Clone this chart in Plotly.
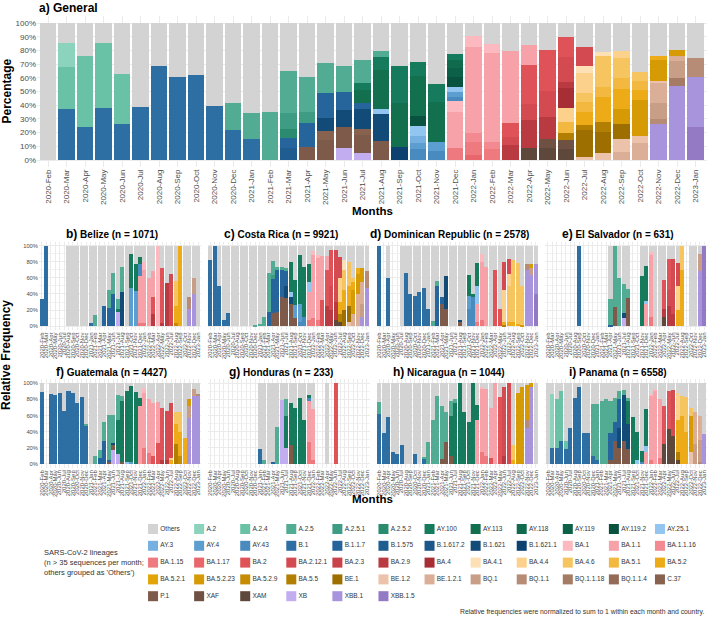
import plotly.graph_objects as go

W, H = 708, 618
FONT = "Liberation Sans, Arial, sans-serif"

MONTHS = ["2020-Feb", "2020-Mar", "2020-Apr", "2020-May", "2020-Jun", "2020-Jul",
          "2020-Aug", "2020-Sep", "2020-Oct", "2020-Nov", "2020-Dec",
          "2021-Jan", "2021-Feb", "2021-Mar", "2021-Apr", "2021-May", "2021-Jun",
          "2021-Jul", "2021-Aug", "2021-Sep", "2021-Oct", "2021-Nov", "2021-Dec",
          "2022-Jan", "2022-Feb", "2022-Mar", "2022-Apr", "2022-May", "2022-Jun",
          "2022-Jul", "2022-Aug", "2022-Sep", "2022-Oct", "2022-Nov", "2022-Dec",
          "2023-Jan"]

LINEAGES = ["Others", "A.2", "A.2.4", "A.2.5", "A.2.5.1", "A.2.5.2", "AY.100", "AY.113",
            "AY.118", "AY.119", "AY.119.2", "AY.25.1",
            "AY.3", "AY.4", "AY.43", "B.1", "B.1.1.7", "B.1.575", "B.1.617.2", "B.1.621",
            "B.1.621.1", "BA.1", "BA.1.1", "BA.1.1.16",
            "BA.1.15", "BA.1.17", "BA.2", "BA.2.12.1", "BA.2.3", "BA.2.9", "BA.4", "BA.4.1",
            "BA.4.4", "BA.4.6", "BA.5.1", "BA.5.2",
            "BA.5.2.1", "BA.5.2.23", "BA.5.2.9", "BA.5.5", "BE.1", "BE.1.2", "BE.1.2.1", "BQ.1",
            "BQ.1.1", "BQ.1.1.18", "BQ.1.1.4", "C.37",
            "P.1", "XAF", "XAM", "XB", "XBB.1", "XBB.1.5"]

COLORS = ["#d3d3d3", "#8cd3be", "#69c2a6", "#52ab93", "#3f9c84", "#2a8b6e", "#167a5d", "#12704f",
          "#0f6a4e", "#0d6048", "#0a5240", "#92c5f0",
          "#75b0e0", "#5d9ed0", "#4a8bbf", "#2e6fa3", "#25659b", "#1f5d90", "#1b5788", "#124a78",
          "#0d4270", "#fdb9c0", "#f7a2a8", "#f38a92",
          "#ee7a80", "#e8666c", "#df5358", "#d44a51", "#c8424a", "#ba3a41", "#a82e36", "#fde0b5",
          "#fbd18b", "#f7c560", "#f2b840", "#edab18",
          "#e3a408", "#d69a04", "#c68c04", "#b27f02", "#9c6f00", "#ecc2ab", "#dbae98", "#c99e86",
          "#b78c76", "#a67b66", "#936b57", "#86624f",
          "#7d5a49", "#6e5143", "#5e473b", "#c3adf1", "#a893dd", "#9479c4"]

# ---- panel data: month index -> {lineage: percent}; "Others" fills the rest in listed months
GENERAL = {
    1: {"B.1": 37.1, "A.2.4": 30.9, "A.2": 17.4},
    2: {"B.1": 24.3, "A.2.4": 51.7},
    3: {"B.1": 38.1, "A.2.4": 47.3},
    4: {"B.1": 26.2, "A.2.4": 36.9},
    5: {"B.1": 38.8},
    6: {"B.1": 68.4},
    7: {"B.1": 60.7},
    8: {"B.1": 62.0},
    9: {"B.1": 39.8},
    10: {"B.1": 21.9, "A.2.5": 20.1},
    11: {"B.1": 15.3, "A.2.5": 19.2},
    12: {"A.2.5": 34.8},
    13: {"B.1.575": 8.5, "B.1.1.7": 7.3, "A.2.5.2": 7.2, "A.2.5.1": 11.5, "A.2.5": 30.5},
    14: {"P.1": 9.7, "B.1.1.7": 17.6, "A.2.5.1": 8.0, "A.2.5": 25.5},
    15: {"P.1": 15.0, "C.37": 6.0, "B.1.621": 10.0, "B.1.1.7": 17.7, "A.2.5": 22.3},
    16: {"XB": 9.0, "P.1": 14.8, "B.1.621": 12.7, "B.1.1.7": 13.1, "A.2.5": 19.0},
    17: {"XB": 5.4, "P.1": 13.2, "C.37": 4.4, "B.1.621": 14.0, "B.1.1.7": 5.0,
         "AY.113": 9.0, "AY.100": 5.0, "A.2.5": 16.7},
    18: {"P.1": 13.9, "B.1.621": 19.7, "AY.25.1": 3.6, "AY.113": 28.5, "AY.100": 9.3, "A.2.5": 4.8},
    19: {"B.1.621.1": 9.7, "AY.113": 32.1, "AY.100": 26.8},
    20: {"AY.43": 7.8, "AY.4": 4.4, "AY.3": 5.6, "AY.25.1": 7.0, "AY.119.2": 7.6,
         "AY.113": 28.9, "AY.100": 10.5},
    21: {"AY.43": 6.8, "AY.4": 6.6, "AY.113": 28.7, "AY.100": 13.4},
    22: {"BA.1.15": 8.5, "BA.1.1": 26.8, "BA.1": 7.7, "AY.43": 3.2, "AY.4": 3.7, "AY.25.1": 3.6,
         "AY.119.2": 7.3, "AY.119": 6.1, "AY.118": 6.0, "AY.100": 4.2},
    23: {"BA.1.17": 3.6, "BA.1.15": 9.3, "BA.1.1.16": 6.6, "BA.1.1": 62.7, "BA.1": 8.3},
    24: {"BA.1.15": 7.8, "BA.1.1.16": 5.6, "BA.1.1": 64.9, "BA.1": 6.1},
    25: {"BA.2.9": 10.9, "BA.2.12.1": 6.1, "BA.2": 9.8, "BA.1.1": 53.0},
    26: {"XAM": 8.5, "BA.2.9": 20.7, "BA.2.12.1": 11.4, "BA.2": 28.7, "BA.1.1": 14.6},
    27: {"XAM": 9.0, "XAF": 6.3, "BA.2.9": 16.3, "BA.2.12.1": 18.8, "BA.2": 29.9},
    28: {"XAM": 8.0, "XAF": 6.6, "BA.5.5": 4.9, "BA.5.1": 8.5, "BA.4.4": 9.7, "BA.4": 14.6,
         "BA.2.9": 4.9, "BA.2.12.1": 18.2, "BA.2": 14.1},
    29: {"BE.1.2": 2.4, "BE.1": 19.5, "BA.5.5": 3.6, "BA.5.2": 9.8, "BA.5.1": 7.3, "BA.4.6": 6.1,
         "BA.4.4": 14.6, "BA.4.1": 5.6, "BA.2.12.1": 13.3},
    30: {"BE.1.2": 5.4, "BE.1": 15.3, "BA.5.5": 7.3, "BA.5.2": 18.2, "BA.5.1": 7.3, "BA.4.6": 22.7,
         "BA.4.1": 2.4},
    31: {"BE.1.2.1": 6.1, "BE.1.2": 9.2, "BE.1": 11.0, "BA.5.2.23": 10.7, "BA.5.2": 14.8,
         "BA.5.1": 7.8, "BA.4.6": 14.6, "BA.4.4": 5.6},
    32: {"BE.1.2.1": 12.2, "BE.1.2": 5.6, "BA.5.2.23": 26.0, "BA.5.2": 7.3, "BA.5.1": 6.6, "BA.4.6": 6.3},
    33: {"XBB.1": 26.3, "BQ.1.1": 3.6, "BQ.1": 11.5, "BE.1.2.1": 14.6, "BE.1.2": 1.9,
         "BA.5.2.23": 15.1, "BA.5.2": 3.2},
    34: {"XBB.1": 54.3, "BQ.1.1.18": 5.3, "BQ.1": 12.7, "BE.1.2.1": 3.9, "BA.5.2.23": 4.1},
    35: {"XBB.1.5": 24.3, "XBB.1": 36.5, "BQ.1.1": 13.9},
}
GENERAL_OTHERS = list(range(36))

BELIZE = {
    0: {"B.1": 33.5}, 1: {"B.1": 100}, 11: {"B.1": 4.5}, 12: {"A.2.5": 13.5},
    14: {"B.1.1.7": 25}, 15: {"B.1.1.7": 22.5, "A.2.5": 22}, 16: {"B.1.1.7": 40, "A.2.5": 26},
    17: {"XB": 17.5, "AY.100": 3.5, "A.2.5": 13}, 18: {"B.1.621": 43, "A.2.5": 31},
    20: {"AY.4": 47, "AY.100": 43}, 21: {"AY.4": 44, "AY.100": 33},
    22: {"BA.1.15": 4, "BA.1.1": 58, "AY.43": 15, "AY.100": 9},
    23: {"BA.1.15": 4, "BA.1.1": 66, "BA.1": 10}, 24: {"BA.1.1": 60},
    25: {"BA.2.9": 15, "BA.2": 21, "BA.1.1": 32}, 26: {"BA.1": 100},
    27: {"BA.2.9": 4, "BA.2": 68}, 28: {"BA.2.9": 54}, 29: {"BA.2.12.1": 65},
    30: {"BA.5.2.9": 4, "BA.5.2": 21, "BA.4.6": 31}, 31: {"BA.5.2": 100},
    33: {"XBB.1": 21, "BQ.1.1": 15}, 34: {"XBB.1": 40, "BQ.1": 20},
}
BELIZE_OTHERS = list(range(6, 36))

COSTA_RICA = {
    0: {"B.1": 82}, 1: {"B.1": 100}, 2: {"B.1": 50}, 3: {"B.1": 7.5}, 4: {"B.1": 17},
    10: {"A.2.5": 2}, 11: {"A.2.5": 3}, 12: {"A.2.5": 11},
    13: {"B.1.1.7": 18, "A.2.5": 48},
    14: {"P.1": 16, "B.1.1.7": 42, "A.2.5.1": 5, "A.2.5": 18},
    15: {"P.1": 18, "B.1.1.7": 52, "A.2.5": 4},
    16: {"P.1": 36, "B.1.1.7": 34, "A.2.5": 3},
    17: {"P.1": 35, "B.1.621": 15, "B.1.1.7": 20, "A.2.5": 2},
    18: {"P.1": 28, "B.1.621": 8, "AY.25.1": 6, "AY.100": 38},
    19: {"P.1": 10, "AY.4": 16, "AY.100": 31},
    20: {"AY.43": 5, "AY.4": 23, "AY.100": 60},
    21: {"AY.43": 12, "AY.100": 61},
    22: {"BA.1.15": 8, "BA.1.1": 34, "AY.25.1": 13, "AY.100": 22},
    23: {"BA.1.15": 10, "BA.1.1": 78, "BA.1": 5},
    24: {"BA.1.15": 8, "BA.1.1": 76, "BA.1": 4},
    25: {"BA.2": 33, "BA.1.1": 54},
    26: {"BA.2.9": 25, "BA.2": 45, "BA.1.1": 17},
    27: {"BA.2.9": 20, "BA.2.12.1": 30, "BA.2": 44},
    28: {"XAM": 8, "BA.2.9": 22, "BA.2.12.1": 64},
    29: {"XAM": 5, "BA.5.5": 10, "BA.5.2": 15, "BA.4.4": 30, "BA.2.12.1": 26},
    30: {"BE.1": 20, "BA.5.2": 25, "BA.4.6": 25, "BA.4.1": 12},
    31: {"BE.1.2": 5, "BE.1": 20, "BA.5.2": 25, "BA.4.6": 30},
    32: {"BE.1.2.1": 15, "BA.5.2.23": 30, "BA.5.2": 10, "BA.4.6": 5},
    33: {"BE.1.2.1": 40, "BA.5.2.23": 25, "BA.5.2": 7},
    34: {"XBB.1": 12, "BQ.1": 15, "BE.1.2.1": 28, "BA.5.2.23": 17},
    35: {"XBB.1": 48, "BQ.1.1": 20},
}
COSTA_RICA_OTHERS = list(range(36))

DOMINICAN_REP = {
    0: {"B.1": 100}, 2: {"B.1": 60}, 6: {"B.1": 66}, 7: {"B.1": 40}, 8: {"B.1": 38},
    9: {"B.1": 42}, 10: {"B.1": 47}, 11: {"B.1": 22}, 12: {"A.2.5": 7},
    13: {"B.1.1.7": 50, "A.2.5": 6}, 14: {"P.1": 27, "B.1.1.7": 9},
    15: {"P.1": 22, "B.1.621": 40}, 18: {"P.1": 5, "B.1.621": 3},
    20: {"AY.43": 22, "AY.4": 16, "AY.100": 25}, 21: {"AY.43": 38, "AY.100": 2},
    22: {"BA.1.15": 5, "BA.1.1": 23, "AY.25.1": 22, "AY.100": 28},
    23: {"BA.1.15": 8, "BA.1.1": 72, "BA.1": 10}, 24: {"BA.1.1": 74},
    26: {"BA.2": 70}, 27: {"BA.2": 22},
    28: {"BA.5.5": 2, "BA.5.2": 3, "BA.4.4": 40, "BA.2.12.1": 35},
    29: {"BA.5.2": 5, "BA.4.6": 45, "BA.4.4": 15, "BA.2.12.1": 18},
    30: {"BA.5.2": 5, "BA.4.6": 77}, 31: {"BA.5.2": 3, "BA.4.6": 75},
    32: {"BA.5.2.23": 2, "BA.4.6": 48},
    33: {"XBB.1": 70, "BQ.1.1": 7}, 34: {"XBB.1": 64, "BQ.1": 8, "BA.5.2.23": 5},
    35: {"XBB.1.5": 40, "XBB.1": 37},
}
DOMINICAN_REP_OTHERS = [2] + list(range(5, 36))

EL_SALVADOR = {
    7: {"B.1": 100}, 14: {"B.1.1.7": 2, "A.2.5": 32}, 15: {"P.1": 24, "A.2.5": 76},
    16: {"A.2.5": 60}, 17: {"XB": 10, "B.1.621": 6, "A.2.5": 36}, 18: {"P.1": 35, "A.2.5": 11},
    21: {"AY.100": 62}, 22: {"BA.1.1": 28, "AY.25.1": 3, "AY.100": 44},
    23: {"BA.1.15": 12, "BA.1.1": 78, "BA.1": 2},
    26: {"XAM": 12, "BA.2.9": 10, "BA.2": 35}, 27: {"BA.2.9": 25, "BA.2.12.1": 20, "BA.2": 38},
    28: {"BA.2.9": 15, "BA.2.12.1": 68}, 29: {"BA.5.2": 20, "BA.4.4": 30, "BA.2.12.1": 28},
    30: {"BA.5.2": 70, "BA.4.6": 30}, 34: {"XBB.1": 68, "BQ.1": 22}, 35: {"XBB.1.5": 100},
}
EL_SALVADOR_OTHERS = list(range(14, 19)) + list(range(21, 31)) + list(range(32, 35))

GUATEMALA = {
    0: {"B.1": 89}, 2: {"B.1": 87}, 3: {"B.1": 86}, 4: {"B.1": 88}, 5: {"B.1": 66},
    6: {"B.1": 90}, 7: {"B.1": 88}, 8: {"B.1": 75}, 9: {"B.1": 83},
    10: {"B.1": 47, "A.2.5": 2}, 12: {"A.2.5": 10}, 13: {"B.1.1.7": 8, "A.2.5": 9},
    14: {"B.1.1.7": 29, "A.2.5": 23}, 15: {"P.1": 2, "B.1.1.7": 3, "A.2.5": 56},
    16: {"XB": 17, "P.1": 6, "B.1.621": 3, "A.2.5": 35},
    17: {"XB": 12, "AY.100": 43, "A.2.5": 30}, 18: {"P.1": 3, "AY.100": 75, "A.2.5": 6},
    19: {"AY.25.1": 3, "AY.100": 87}, 20: {"AY.4": 2, "AY.100": 95}, 21: {"AY.100": 89},
    22: {"BA.1.1": 72, "AY.100": 10}, 23: {"BA.1.15": 20, "BA.1.1": 68, "BA.1": 6},
    24: {"BA.1.15": 13, "BA.1.1": 67}, 25: {"BA.2": 10, "BA.1.1": 65},
    26: {"BA.2": 26, "BA.1.1": 51}, 27: {"BA.2.9": 5, "BA.2": 64},
    28: {"BA.2.9": 5, "BA.2.12.1": 61}, 29: {"BA.5.2": 5, "BA.4.4": 3, "BA.2.12.1": 67},
    30: {"BA.5.5": 25, "BA.5.2": 25, "BA.4.6": 15}, 31: {"BA.5.2.9": 10, "BA.5.2": 30, "BA.4.6": 25},
    32: {"BA.5.2": 32}, 33: {"XBB.1": 57, "BQ.1": 15, "BA.5.2.23": 8},
    34: {"XBB.1": 84, "BQ.1": 9}, 35: {"XBB.1": 84, "BQ.1.1": 3},
}
GUATEMALA_OTHERS = [0] + list(range(2, 36))

HONDURAS = {
    11: {"B.1": 18}, 12: {"A.2.5": 5}, 14: {"B.1.1.7": 2}, 15: {"A.2.5": 46}, 16: {"XB": 79},
    17: {"XB": 20, "AY.100": 40, "A.2.5": 20}, 18: {"P.1": 24, "AY.100": 51},
    19: {"AY.100": 69}, 20: {"AY.100": 82}, 21: {"AY.100": 54},
    22: {"BA.1.15": 27, "BA.1.1": 51, "AY.43": 4, "AY.100": 4},
    23: {"BA.1.15": 5, "BA.1.1": 63}, 28: {"BA.2": 100},
}
HONDURAS_OTHERS = list(range(11, 24)) + [26, 28]

NICARAGUA = {
    0: {"B.1": 62, "A.2.5": 15}, 1: {"B.1": 38}, 2: {"B.1": 58}, 3: {"B.1": 15}, 4: {"B.1": 12},
    5: {"B.1": 24}, 8: {"B.1": 12}, 10: {"B.1": 6, "A.2.5": 3}, 11: {"A.2.5": 27},
    12: {"A.2.5": 54}, 13: {"A.2.5": 84}, 14: {"P.1": 6, "A.2.5": 66}, 15: {"P.1": 27, "A.2.5": 37},
    16: {"P.1": 10, "AY.100": 50, "A.2.5": 18}, 17: {"AY.100": 75, "A.2.5": 5},
    18: {"AY.100": 100}, 19: {"AY.100": 64}, 20: {"AY.100": 52}, 21: {"AY.100": 100},
    22: {"BA.1.1": 55, "AY.100": 18}, 23: {"BA.1.15": 15, "BA.1.1": 78, "BA.1": 2},
    24: {"BA.1.15": 10, "BA.1.1": 83}, 25: {"BA.2": 8, "BA.1.1": 62}, 26: {"BA.1.1": 100},
    27: {"BA.2": 83}, 28: {"BA.2.9": 10, "BA.2.12.1": 85}, 29: {"BA.2.12.1": 100},
    30: {"BA.5.2": 5, "BA.4.6": 18}, 31: {"BA.5.2.23": 88}, 32: {"BA.5.2.23": 95},
    33: {"XBB.1": 45, "BQ.1.1": 10, "BA.5.2.23": 43}, 34: {"XBB.1": 96, "BA.5.2.23": 4},
}
NICARAGUA_OTHERS = list(range(36))

PANAMA = {
    1: {"B.1": 20, "A.2": 67}, 2: {"B.1": 20, "A.2.4": 60}, 3: {"B.1": 29, "A.2.4": 61},
    4: {"B.1": 18, "A.2.4": 10}, 5: {"B.1": 44}, 6: {"B.1": 82}, 7: {"B.1": 96}, 8: {"B.1": 38},
    9: {"B.1": 38}, 10: {"B.1": 10, "A.2.5": 64}, 11: {"B.1": 5, "A.2.5": 69},
    12: {"A.2.5": 78}, 13: {"A.2.5": 81}, 14: {"P.1": 5, "B.1.1.7": 33, "A.2.5": 40},
    15: {"P.1": 28, "B.1.1.7": 24, "A.2.5": 30},
    16: {"P.1": 20, "B.1.621": 25, "B.1.1.7": 35, "A.2.5": 10},
    17: {"P.1": 28, "B.1.621": 57, "A.2.5": 7},
    18: {"P.1": 18, "B.1.621": 32, "AY.100": 28, "A.2.5": 4},
    19: {"AY.100": 58}, 20: {"AY.25.1": 5, "AY.100": 35}, 21: {"AY.43": 2, "AY.100": 14},
    22: {"BA.1.1": 15, "AY.25.1": 7, "AY.100": 46}, 23: {"BA.1.15": 5, "BA.1.1": 80, "BA.1": 2},
    24: {"BA.1.1": 90, "BA.1": 3}, 25: {"BA.1.15": 8, "BA.1.1": 72},
    26: {"XAM": 25, "BA.2": 47}, 27: {"XAM": 43, "BA.2": 48}, 28: {"XAM": 35, "BA.2.12.1": 57},
    29: {"XAM": 5, "BA.5.5": 10, "BA.5.2": 40, "BA.4.4": 33}, 30: {"BA.5.2": 60, "BA.4.6": 24},
    31: {"BA.5.2": 40, "BA.4.6": 43}, 32: {"BE.1.2": 15, "BA.5.2.23": 45, "BA.4.6": 10},
    33: {"BE.1.2.1": 40, "BQ.1": 25}, 34: {"BE.1.2.1": 30, "BQ.1": 28, "BQ.1.1": 2},
    35: {"XBB.1": 37},
}
PANAMA_OTHERS = list(range(36))

TITLES = ["a) General", "b) Belize", "c) Costa Rica", "d) Dominican Republic", "e) El Salvador",
          "f) Guatemala", "g) Honduras", "h) Nicaragua", "i) Panama"]
SEQ_COUNTS = [None, 1071, 9921, 2578, 631, 4427, 233, 1044, 6558]
LEGEND_TITLE = "SARS-CoV-2 lineages<br>(n > 35 sequences per month;<br>others grouped as 'Others')"
CAPTION = "Relative frequencies were normalized to sum to 1 within each month and country."

PANEL_DATA = [(GENERAL, GENERAL_OTHERS), (BELIZE, BELIZE_OTHERS), (COSTA_RICA, COSTA_RICA_OTHERS),
              (DOMINICAN_REP, DOMINICAN_REP_OTHERS), (EL_SALVADOR, EL_SALVADOR_OTHERS),
              (GUATEMALA, GUATEMALA_OTHERS), (HONDURAS, HONDURAS_OTHERS),
              (NICARAGUA, NICARAGUA_OTHERS), (PANAMA, PANAMA_OTHERS)]


def fx(px):
    return px / W


def fy(py):
    return 1 - py / H


# ---- geometry (pixels)
TOP_X = (37, 706.6)
TOP_Y = (16.2, 166.9)
SMALL_X = [(39, 200.75), (207.75, 369.5), (376.5, 538.25), (545.25, 707)]
ROW_Y = [(241.5, 330.3), (379.3, 468.0)]

color_of = dict(zip(LINEAGES, COLORS))
fig = go.Figure()
layout = {}
annotations = []

for k, (data, others_months) in enumerate(PANEL_DATA, start=1):
    xa = "x" if k == 1 else f"x{k}"
    ya = "y" if k == 1 else f"y{k}"
    for lin in reversed(LINEAGES):
        if lin == "Others":
            vals = []
            for i in range(len(MONTHS)):
                if i in others_months:
                    s = sum(data.get(i, {}).values())
                    vals.append(max(100 - s, 0) / 100)
                else:
                    vals.append(0)
        else:
            vals = [data.get(i, {}).get(lin, 0) / 100 for i in range(len(MONTHS))]
        if not any(vals):
            continue
        fig.add_trace(go.Bar(x=MONTHS, y=vals, name=lin, marker=dict(color=color_of[lin], line=dict(width=0)),
                             xaxis=xa, yaxis=ya, showlegend=False, hoverinfo="skip"))

    if k == 1:
        dx, dy = TOP_X, TOP_Y
        xtf, ytf = 8, 8
        yt = dict(tickmode="linear", tick0=0, dtick=0.1, tickformat=".0%", showticklabels=True)
    else:
        col = (k - 2) % 4
        row = (k - 2) // 4
        dx, dy = SMALL_X[col], ROW_Y[row]
        xtf, ytf = 6, 5.8
        yt = dict(tickmode="linear", tick0=0, dtick=0.2, tickformat=".0%", showticklabels=(col == 0),
                  minor=dict(dtick=0.1, showgrid=True, gridcolor="#f2f2f2", gridwidth=0.5))
    layout["xaxis" if k == 1 else f"xaxis{k}"] = dict(
        domain=[fx(dx[0]), fx(dx[1])], anchor=ya, type="category", categoryorder="array",
        categoryarray=MONTHS, tickmode="array", tickvals=MONTHS, ticktext=MONTHS,
        range=[-0.6, len(MONTHS) - 0.4], showgrid=True, gridcolor="#ebebeb",
        gridwidth=0.8, zeroline=False, showline=False, ticks="", tickangle=-90,
        tickfont=dict(size=xtf, color="#4d4d4d", family=FONT), automargin=False, fixedrange=True)
    layout["yaxis" if k == 1 else f"yaxis{k}"] = dict(
        domain=[fy(dy[1]), fy(dy[0])], anchor=xa, range=[-0.05, 1.05], showgrid=True,
        gridcolor="#ebebeb", gridwidth=0.8, zeroline=False, showline=False, ticks="",
        tickfont=dict(size=ytf, color="#4d4d4d", family=FONT), automargin=False, fixedrange=True, **yt)

    # panel titles
    if k == 1:
        annotations.append(dict(text="<b>a) General</b>", x=fx(37), y=fy(8), xref="paper", yref="paper",
                                xanchor="left", yanchor="middle", showarrow=False,
                                font=dict(size=12, color="#000", family=FONT)))
    else:
        tag, name = TITLES[k - 1].split(") ", 1)
        cx = (dx[0] + dx[1]) / 2 - 8
        ty = 234 if k <= 5 else 372
        annotations.append(dict(
            text=f"<b><span style='font-size:12px'>{tag})</span> {name} (n = {SEQ_COUNTS[k - 1]})</b>",
            x=fx(cx), y=fy(ty), xref="paper", yref="paper", xanchor="center", yanchor="middle",
            showarrow=False, font=dict(size=10, color="#000", family=FONT)))

# ---- legend drawn as a grid of swatches on its own hidden axes
NCOL = 12
lx = [i % NCOL for i in range(len(LINEAGES))]
ly = [i // NCOL for i in range(len(LINEAGES))]
fig.add_trace(go.Scatter(x=lx, y=ly, mode="markers+text", text=LINEAGES, textposition="middle right",
                         textfont=dict(size=6.5, color="#333333", family=FONT),
                         marker=dict(symbol="square", size=10, color=COLORS, line=dict(width=0)),
                         xaxis="x10", yaxis="y10", showlegend=False, hoverinfo="skip", cliponaxis=False))
layout["xaxis10"] = dict(domain=[fx(130), fx(683)], anchor="y10", range=[-0.5, NCOL - 0.5], visible=False,
                         fixedrange=True)
layout["yaxis10"] = dict(domain=[fy(604.6), fy(520.6)], anchor="x10", range=[4.5, -0.5], visible=False,
                         fixedrange=True)

# axis titles and texts
bold = dict(size=12, color="#000", family=FONT)
annotations += [
    dict(text="<b>Percentage</b>", x=fx(6), y=fy(91.5), textangle=-90, font=bold),
    dict(text="<b>Months</b>", x=fx(372), y=fy(211), font=dict(size=11.5, color="#000", family=FONT)),
    dict(text="<b>Relative Frequency</b>", x=fx(6), y=fy(355), textangle=-90, font=bold),
    dict(text="<b>Months</b>", x=fx(372), y=fy(499), font=dict(size=11.5, color="#000", family=FONT)),
    dict(text=LEGEND_TITLE, x=fx(42), y=fy(562), xanchor="left", align="left",
         font=dict(size=7.5, color="#333333", family=FONT)),
    dict(text=CAPTION, x=fx(706), y=fy(612), xanchor="right",
         font=dict(size=6.8, color="#333333", family=FONT)),
]
for a in annotations:
    a.setdefault("xref", "paper")
    a.setdefault("yref", "paper")
    a.setdefault("showarrow", False)
    a.setdefault("xanchor", "center")
    a.setdefault("yanchor", "middle")

fig.update_layout(width=W, height=H, margin=dict(l=0, r=0, t=0, b=0), barmode="stack", bargap=0.1,
                  paper_bgcolor="white", plot_bgcolor="white", showlegend=False,
                  font=dict(family=FONT), annotations=annotations, **layout)

fig.write_html("out.html", config={"displayModeBar": False})
